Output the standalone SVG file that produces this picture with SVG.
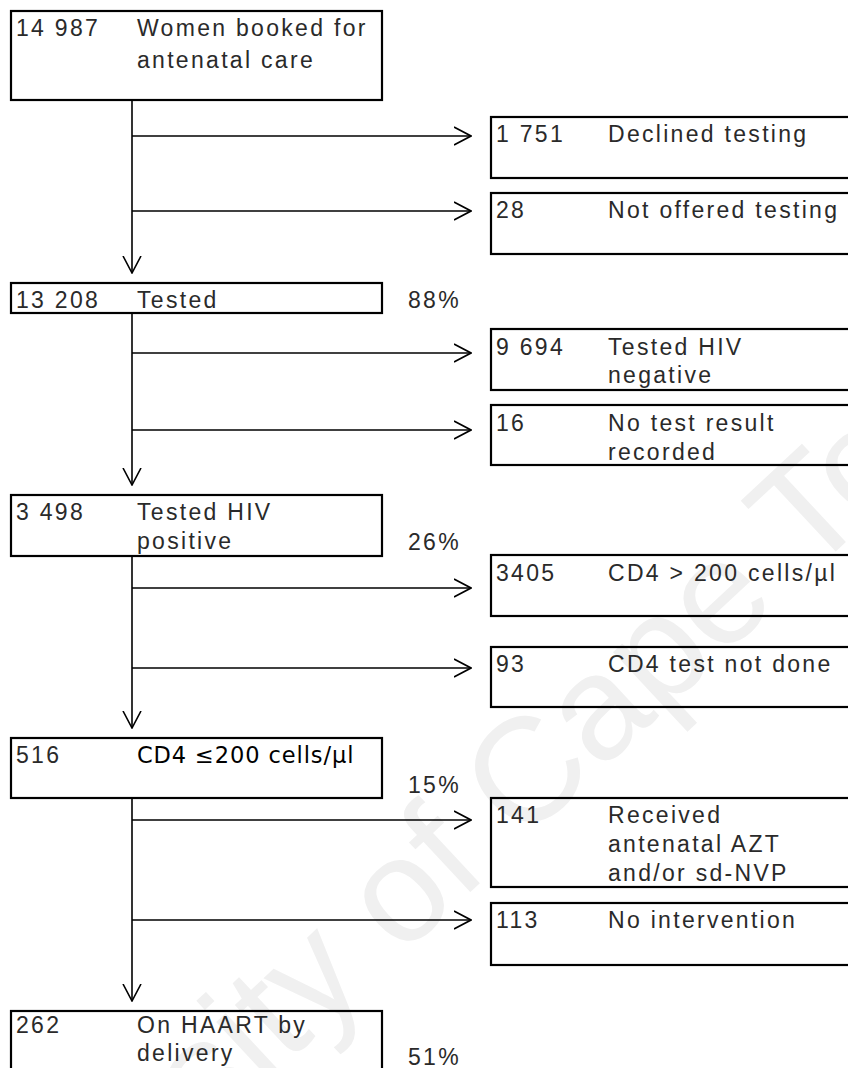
<svg xmlns="http://www.w3.org/2000/svg" width="848" height="1068" viewBox="0 0 848 1068">
<defs>
<style>
.box{fill:none;stroke:#000;stroke-width:2.2}
.t{font-family:"Liberation Sans",Arial,sans-serif;font-size:23px;letter-spacing:2.3px;fill:#2a2a2a}
.b{font-family:"DejaVu Sans",Verdana,sans-serif;font-size:22.5px;letter-spacing:0.9px;fill:#000}
.c{fill:none;stroke:#000;stroke-width:1.6}
.wm{font-family:"Liberation Sans",Arial,sans-serif;font-size:148px;fill:#f0f0f0}
</style>
<marker id="ah" viewBox="0 0 18 20" refX="17.5" refY="10" markerWidth="18" markerHeight="20" markerUnits="userSpaceOnUse" orient="auto">
<path d="M0.5,1 L17.5,10 L0.5,19" fill="none" stroke="#000" stroke-width="1.6"/>
</marker>
</defs>
<rect width="848" height="1068" fill="#fff"/>
<text class="wm" x="0" y="0" text-anchor="middle" transform="translate(478,885) rotate(-43)">University of Cape Town</text>

<g id="connectors">
<path class="c" d="M132,100 V273" marker-end="url(#ah)"/>
<path class="c" d="M132,313 V485" marker-end="url(#ah)"/>
<path class="c" d="M132,556 V728" marker-end="url(#ah)"/>
<path class="c" d="M132,798 V1001" marker-end="url(#ah)"/>
<path class="c" d="M132,136 H471" marker-end="url(#ah)"/>
<path class="c" d="M132,211 H471" marker-end="url(#ah)"/>
<path class="c" d="M132,353 H471" marker-end="url(#ah)"/>
<path class="c" d="M132,430 H471" marker-end="url(#ah)"/>
<path class="c" d="M132,588 H471" marker-end="url(#ah)"/>
<path class="c" d="M132,668 H471" marker-end="url(#ah)"/>
<path class="c" d="M132,820 H471" marker-end="url(#ah)"/>
<path class="c" d="M132,920 H471" marker-end="url(#ah)"/>
</g>

<g id="n1">
<rect class="box" x="11" y="11" width="371" height="89"/>
<text class="t" x="16" y="36">14 987</text>
<text class="t" x="137" y="36">Women booked for</text>
<text class="t" x="137" y="68">antenatal care</text>
</g>
<g id="r1">
<rect class="box" x="491" y="117" width="380" height="61"/>
<text class="t" x="496" y="142">1 751</text>
<text class="t" x="608" y="142">Declined testing</text>
</g>
<g id="r2">
<rect class="box" x="491" y="193" width="380" height="61"/>
<text class="t" x="496" y="218">28</text>
<text class="t" x="608" y="218">Not offered testing</text>
</g>
<g id="n2">
<rect class="box" x="11" y="283" width="371" height="30"/>
<text class="t" x="16" y="308">13 208</text>
<text class="t" x="137" y="308">Tested</text>
<text class="t" x="408" y="308">88%</text>
</g>
<g id="r3">
<rect class="box" x="491" y="329" width="380" height="61"/>
<text class="t" x="496" y="355">9 694</text>
<text class="t" x="608" y="355">Tested HIV</text>
<text class="t" x="608" y="383">negative</text>
</g>
<g id="r4">
<rect class="box" x="491" y="405" width="380" height="60"/>
<text class="t" x="496" y="431">16</text>
<text class="t" x="608" y="431">No test result</text>
<text class="t" x="608" y="460">recorded</text>
</g>
<g id="n3">
<rect class="box" x="11" y="495" width="371" height="61"/>
<text class="t" x="16" y="520">3 498</text>
<text class="t" x="137" y="520">Tested HIV</text>
<text class="t" x="137" y="549">positive</text>
<text class="t" x="408" y="550">26%</text>
</g>
<g id="r5">
<rect class="box" x="491" y="555" width="380" height="61"/>
<text class="t" x="496" y="581">3405</text>
<text class="t" x="608" y="581">CD4 &gt; 200 cells/µl</text>
</g>
<g id="r6">
<rect class="box" x="491" y="647" width="380" height="60"/>
<text class="t" x="496" y="672">93</text>
<text class="t" x="608" y="672">CD4 test not done</text>
</g>
<g id="n4">
<rect class="box" x="11" y="738" width="371" height="60"/>
<text class="t" x="16" y="763">516</text>
<text class="b" x="137" y="763">CD4 ≤200 cells/µl</text>
<text class="t" x="408" y="793">15%</text>
</g>
<g id="r7">
<rect class="box" x="491" y="798" width="380" height="89"/>
<text class="t" x="496" y="823">141</text>
<text class="t" x="608" y="823">Received</text>
<text class="t" x="608" y="852">antenatal AZT</text>
<text class="t" x="608" y="881">and/or sd-NVP</text>
</g>
<g id="r8">
<rect class="box" x="491" y="903" width="380" height="62"/>
<text class="t" x="496" y="928">113</text>
<text class="t" x="608" y="928">No intervention</text>
</g>
<g id="n5">
<rect class="box" x="11" y="1011" width="371" height="90"/>
<text class="t" x="16" y="1033">262</text>
<text class="t" x="137" y="1033">On HAART by</text>
<text class="t" x="137" y="1061">delivery</text>
<text class="t" x="408" y="1065">51%</text>
</g>
</svg>
